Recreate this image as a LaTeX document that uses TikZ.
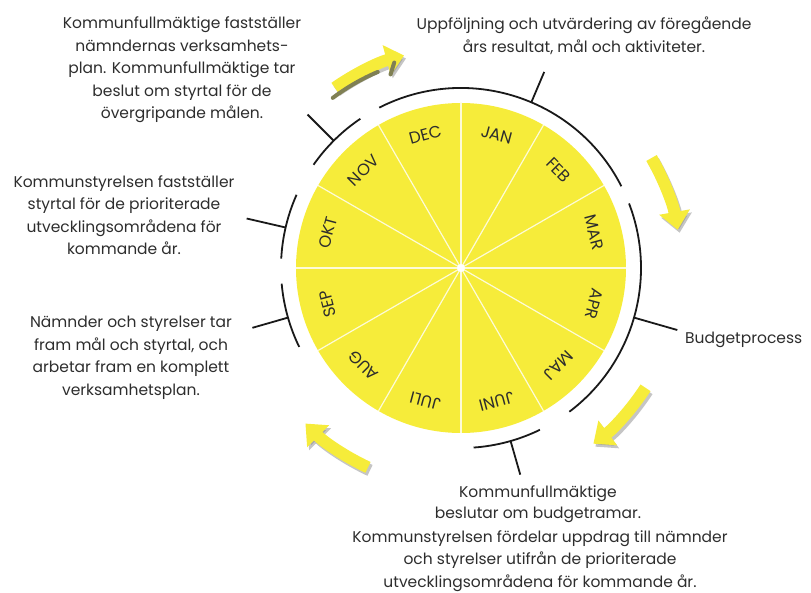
\documentclass[tikz,border=0pt]{standalone}
\usepackage{fontspec}
\setmainfont{Poppins}
\usetikzlibrary{arrows.meta}
\definecolor{lemon}{RGB}{246,236,58}
\definecolor{olivemark}{RGB}{128,128,84}
\definecolor{ink}{RGB}{45,45,45}

\begin{document}
\begin{tikzpicture}[x=1pt,y=1pt]
  \tikzset{wheeltext/.style = {text=ink, align=center, inner sep=0pt, font=\fontsize{15.5}{22.5}\selectfont}}
  \tikzset{month/.style = {text=ink, inner sep=0pt, font=\fontsize{16.5}{16.5}\selectfont}}
  \tikzset{bracket/.style = {draw=black!90, line width=1.8pt}}
  \tikzset{flow/.style = {draw=lemon, line width=12pt, -{Triangle[length=18pt,width=30pt]}}}
  \tikzset{flowshadow/.style = {draw=black!45, opacity=0.5, line width=12pt, -{Triangle[length=18pt,width=30pt]}}}

  \useasboundingbox (-461,-325) rectangle (350,268);

  % wheel
  \fill[lemon] (0,0) circle (165);
  \foreach \a in {0,30,...,330}
    \draw[white, line width=1.2pt, opacity=0.8] (0,0) -- (\a:165);
  \fill[white] (0,0) circle (4);

  \foreach \m [count=\i, evaluate=\i as \ang using 105-30*\i] in {JAN,FEB,MAR,APR,MAJ,JUNI,JULI,AUG,SEP,OKT,NOV,DEC}
    \node[month, rotate=\ang-90] (m\i) at (\ang:138) {\m};

  % brackets
  \foreach \s/\e/\t/\r [count=\k] in {117/27/67/213, 21/-53/-16/225, -64/-86/-74/215, 124/145/135/217, 156/177/167/220, 185/206/196/217} {
    \draw[bracket] (\s:180) arc (\s:\e:180);
    \coordinate (foot\k) at (\t:180);
    \coordinate (tip\k) at (\t:\r);
    \draw[bracket] (foot\k) -- (tip\k);
  }

  % arrows
  \foreach \a in {125,30,-33,-115} {
    \draw[flowshadow, shift={(2,-3)}] (\a:220) arc (\a:\a-20:220);
    \draw[flow] (\a:220) arc (\a:\a-20:220);
  }
  \draw[olivemark, line width=4pt, line cap=round] (127:213) arc (127:113:213);
  \draw[olivemark, line width=4pt, line cap=round] (110:206) -- (108:216);

  % texts
  \node[wheeltext] (review) at (123,232) {Uppföljning och utvärdering av föregående\\års resultat, mål och aktiviteter.};
  \node[wheeltext] (plan) at (-279,198) {Kommunfullmäktige fastställer\\nämndernas verksamhets-\\plan. Kommunfullmäktige tar\\beslut om styrtal för de\\övergripande målen.};
  \node[wheeltext] (targets) at (-337,53) {Kommunstyrelsen fastställer\\styrtal för de prioriterade\\utvecklingsområdena för\\kommande år.};
  \node[wheeltext] (boards) at (-330,-90) {Nämnder och styrelser tar\\fram mål och styrtal, och\\arbetar fram en komplett\\verksamhetsplan.};
  \node[wheeltext, anchor=west] (budget) at (224,-72) {Budgetprocess};
  \node[wheeltext, font=\fontsize{15.5}{20.5}\selectfont] (frames) at (77,-236) {Kommunfullmäktige\\beslutar om budgetramar.};
  \node[wheeltext] (assign) at (79,-293) {Kommunstyrelsen fördelar uppdrag till nämnder\\och styrelser utifrån de prioriterade\\utvecklingsområdena för kommande år.};
\end{tikzpicture}
\end{document}
